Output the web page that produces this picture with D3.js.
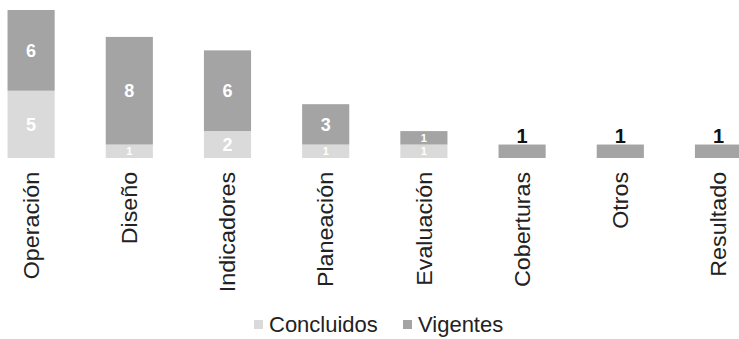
<!DOCTYPE html>
<html>
<head>
<meta charset="UTF-8">
<script src="https://cdnjs.cloudflare.com/ajax/libs/d3/7.8.5/d3.min.js"></script>
<style>
    body{margin:0;background:#fff;}
    text{font-family:"Liberation Sans",Arial,sans-serif;}
</style>
</head>
<body>
<div id="chart"></div>
<script>
    var categorias=['Operación','Diseño','Indicadores','Planeación','Evaluación','Coberturas','Otros','Resultado'];
    var concluidos=[5,1,2,1,1,0,0,0];
    var vigentes=[6,8,6,3,1,1,1,1];
    var series=['Concluidos','Vigentes'];
    var colores=['#dadada','#a4a4a4'];

    var width=739,height=339;
    var svg=d3.select('#chart').append('svg')
            .attr('width',width)
            .attr('height',height);

    var x=d3.scaleBand()
            .domain(categorias)
            .range([-18,767.6])
            .paddingInner(0.52)
            .paddingOuter(0.26);
    var y=d3.scaleLinear()
            .domain([0,11])
            .range([158,10]);

    var tabla=categorias.map(function(c,i){
        return {cat:c,Concluidos:concluidos[i],Vigentes:vigentes[i]};
    });
    var pila=d3.stack().keys(series)(tabla);

    var capas=svg.selectAll('g.capa')
            .data(pila)
            .enter()
            .append('g')
            .attr('class','capa')
            .attr('fill',function(d,i){return colores[i];});

    capas.selectAll('rect')
            .data(function(d){return d;})
            .enter()
            .append('rect')
            .attr('x',function(d){return x(d.data.cat);})
            .attr('y',function(d){return y(d[1]);})
            .attr('width',x.bandwidth())
            .attr('height',function(d){return y(d[0])-y(d[1]);});

    // etiquetas de datos
    capas.selectAll('text')
            .data(function(d){return d.filter(function(p){return p[1]-p[0]>0;});})
            .enter()
            .append('text')
            .attr('x',function(d){return x(d.data.cat)+x.bandwidth()/2;})
            .attr('y',function(d){
                if(d.data.Concluidos==0) return y(d[1])-9;
                return (y(d[0])+y(d[1]))/2;
            })
            .attr('dy','0.36em')
            .attr('text-anchor','middle')
            .style('font-size',function(d){
                if(d.data.Concluidos==0) return '20px';
                return (d[1]-d[0])==1?'11px':'18px';
            })
            .style('font-weight','bold')
            .style('fill',function(d){return d.data.Concluidos==0?'#111':'#fff';})
            .text(function(d){return d[1]-d[0];});

    // eje de categorias
    var eje=svg.append('g')
            .attr('transform','translate(0,158)')
            .call(d3.axisBottom(x).tickSize(0));
    eje.select('.domain').remove();
    eje.selectAll('text')
            .attr('transform','rotate(-90) scale(1.06,1)')
            .attr('x',-13)
            .attr('y',0)
            .attr('dy','0.35em')
            .attr('text-anchor','end')
            .style('font-family','"Liberation Sans",Arial,sans-serif')
            .style('font-size','22px')
            .style('fill','#222');

    // leyenda
    var leyendaX=[254,403];
    var leyenda=svg.selectAll('g.leyenda')
            .data(series)
            .enter()
            .append('g')
            .attr('class','leyenda')
            .attr('transform',function(d,i){return 'translate('+leyendaX[i]+',320)';});
    leyenda.append('rect')
            .attr('width',9)
            .attr('height',9)
            .attr('fill',function(d,i){return colores[i];});
    leyenda.append('text')
            .attr('x',15)
            .attr('y',12)
            .style('font-size','22px')
            .style('fill','#222')
            .text(function(d){return d;});
</script>
</body>
</html>
